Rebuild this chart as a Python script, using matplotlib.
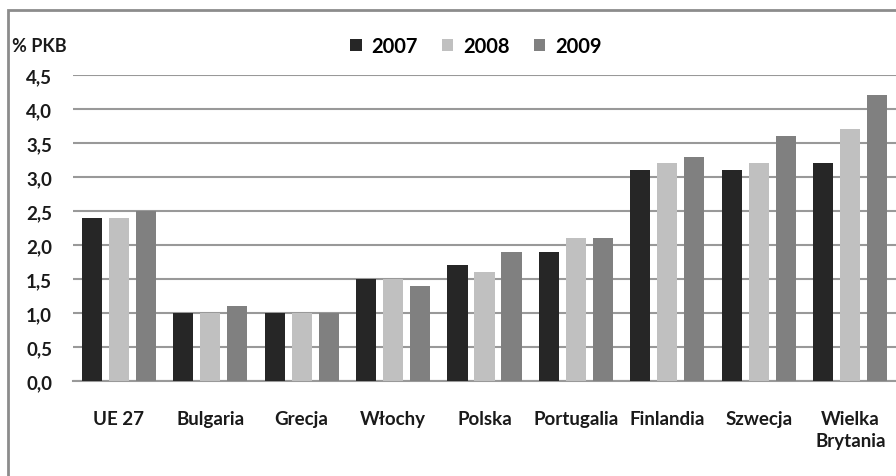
# bar chart: % PKB by country, 2007-2009
import matplotlib.pyplot as plt
import matplotlib.patches as mpatches
import numpy as np

plt.rcParams['font.family'] = ['Lato', 'DejaVu Sans']

# categories and values
countries = ['UE 27', 'Bulgaria', 'Grecja', 'Włochy', 'Polska', 'Portugalia',
             'Finlandia', 'Szwecja', 'Wielka\nBrytania']
y_2007 = [2.4, 1.0, 1.0, 1.5, 1.7, 1.9, 3.1, 3.1, 3.2]
y_2008 = [2.4, 1.0, 1.0, 1.5, 1.6, 2.1, 3.2, 3.2, 3.7]
y_2009 = [2.5, 1.1, 1.0, 1.4, 1.9, 2.1, 3.3, 3.6, 4.2]
years = ['2007', '2008', '2009']
yticks = [0.0, 0.5, 1.0, 1.5, 2.0, 2.5, 3.0, 3.5, 4.0, 4.5]

colors = ['#262626', '#c0c0c0', '#808080']

fig = plt.figure(figsize=(8.96, 4.77), dpi=100)
ax = fig.add_axes([73 / 896, 95 / 477, 1 - 73 / 896, 306 / 477])

x = np.arange(len(countries))
bar_width = 0.22
offset = 0.295
for i, (vals, c, lab) in enumerate(zip([y_2007, y_2008, y_2009], colors, years)):
    ax.bar(x + (i - 1) * offset, vals, width=bar_width, color=c, label=lab, zorder=3)

ax.set_xlim(-0.5, 8.5)
ax.set_ylim(0, 4.5)
ax.set_yticks(yticks)
ax.set_yticklabels([f'{v:.1f}'.replace('.', ',') for v in yticks])
ax.set_xticks(x)
ax.set_xticklabels(countries, linespacing=1.35)
ax.tick_params(axis='both', length=0, labelsize=13.5)
ax.tick_params(axis='x', pad=21)
ax.tick_params(axis='y', pad=15)
for lbl in ax.get_xticklabels() + ax.get_yticklabels():
    lbl.set_fontweight('bold')
    lbl.set_color('#1a1a1a')

ax.yaxis.grid(True, color='#999999', linewidth=1.5, zorder=0)
ax.set_axisbelow(True)
for s in ['top', 'right', 'left']:
    ax.spines[s].set_visible(False)
ax.spines['bottom'].set_color('#999999')
ax.spines['bottom'].set_linewidth(1.5)

fig.text(12 / 896, 1 - 47 / 477, '% PKB', fontsize=13, fontweight='bold',
         va='center', ha='left', color='#1a1a1a')

leg = fig.legend(loc='center', bbox_to_anchor=(476 / 896, 1 - 47 / 477), ncol=3,
                 frameon=False, fontsize=14.5, handlelength=0.55, handleheight=0.55,
                 handletextpad=0.5, columnspacing=1.2)
for t in leg.get_texts():
    t.set_fontweight('bold')

# outer frame (top and left edges visible)
frame = mpatches.Rectangle((8 / 896, -0.1), 1.2, 1 - 11 / 477 + 0.1, transform=fig.transFigure,
                           fill=False, edgecolor='#8c8c8c', linewidth=2, clip_on=False)
fig.patches.append(frame)

fig.savefig('out.png', dpi=100)
